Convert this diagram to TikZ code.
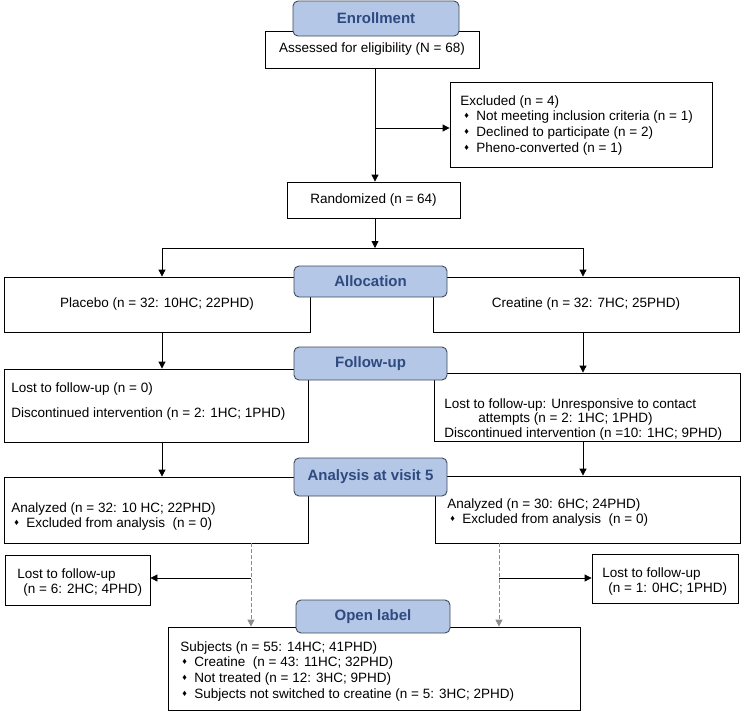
\documentclass[tikz,border=0pt]{standalone}
\usepackage{fontspec}
\setmainfont{Liberation Sans}
\usetikzlibrary{arrows.meta}
\definecolor{lblblue}{HTML}{B4C7E7}
\definecolor{lbledge}{HTML}{3F4A5C}
\definecolor{lbltext}{HTML}{2F4A7F}
\definecolor{dashgray}{HTML}{8C8C8C}
\newcommand{\dia}{\makebox[12pt][l]{\raisebox{2.2pt}{\fontsize{9}{9}\selectfont ♦}}}
\tikzset{
  box/.style={draw, fill=white, inner sep=0pt, font=\fontsize{13.5}{15.7}\selectfont},
  lbl/.style={draw=lbledge, fill=lblblue, rounded corners=5pt, line width=0.9pt, text=lbltext,
    font=\bfseries\fontsize{15}{18}\selectfont, inner sep=0pt},
  txt/.style={font=\fontsize{13.5}{15.7}\selectfont, align=left, inner sep=0pt, anchor=north west},
  dsh/.style={draw=dashgray, dash pattern=on 4pt off 2pt, line width=1pt}
}
\begin{document}
\begin{tikzpicture}[x=1pt, y=-1pt, line width=0.8pt, >={Triangle[length=7pt,width=7pt]}]
                \useasboundingbox (0,0) rectangle (742,712);
                \node[box, minimum width=214pt, minimum height=37pt] (assess) at (372,49.5) {Assessed for eligibility (N = 68)};
                \node[lbl, minimum width=166pt, minimum height=35pt] (enroll) at (376,18.5) {Enrollment};
                \node[box, minimum width=262pt, minimum height=85pt] (excl) at (581,124.5) {};
                \node[txt] (excltext) at (460,95) {Excluded (n = 4)\\
                  \hspace*{4pt}\dia Not meeting inclusion criteria (n = 1)\\
                  \hspace*{4pt}\dia Declined to participate (n = 2)\\
                  \hspace*{4pt}\dia Pheno-converted (n = 1)};
                \node[box, minimum width=173pt, minimum height=36pt] (rand) at (373.5,200) {Randomized (n = 64)};
                \coordinate (excljoin) at (375,128);
                \draw[->] (assess.south -| excljoin) -- (rand.north -| excljoin);
                \draw[->] (excljoin) -- (excl.west |- excljoin);

                \node[box, minimum width=306pt, minimum height=55pt] (placebo) at (157,304.5) {Placebo (n = 32: 10HC; 22PHD)};
                \node[box, minimum width=306pt, minimum height=55pt] (creat) at (586,304.5) {Creatine (n = 32: 7HC; 25PHD)};
                \node[lbl, minimum width=153pt, minimum height=31pt] (alloc) at (370.5,281.5) {Allocation};
                \coordinate (split) at (375,248);
                \coordinate (splitL) at (162,248);
                \coordinate (splitR) at (583,248);
                \draw[->] (rand.south -| split) -- (split);
                \draw (splitL) -- (splitR);
                \draw[->] (splitL) -- (splitL |- placebo.north);
                \draw[->] (splitR) -- (splitR |- creat.north);

                \node[box, minimum width=304pt, minimum height=73pt] (fuL) at (156,405.5) {};
                \node[txt] (fuLtext) at (11,382) {Lost to follow-up (n = 0)\\[9.3pt]
                  Discontinued intervention (n = 2: 1HC; 1PHD)};
                \node[box, minimum width=306pt, minimum height=68pt] (fuR) at (587,407) {};
                \node[txt] (fuRtext) at (444,398) {Lost to follow-up: Unresponsive to contact\\[-1pt]
                  \hspace*{34pt}attempts (n = 2: 1HC; 1PHD)\\[-1pt]
                  Discontinued intervention (n =10: 1HC; 9PHD)};
                \node[lbl, minimum width=153pt, minimum height=33pt] (follow) at (370.5,363.5) {Follow-up};
                \draw[->] (splitL |- placebo.south) -- (splitL |- fuL.north);
                \draw[->] (splitR |- creat.south) -- (splitR |- fuR.north);

                \node[box, minimum width=304pt, minimum height=66pt] (anL) at (156,510) {};
                \node[txt] (anLtext) at (11,502) {Analyzed (n = 32: 10 HC; 22PHD)\\
                  \hspace*{3pt}\dia Excluded from analysis\ \ (n = 0)};
                \node[box, minimum width=305pt, minimum height=67pt] (anR) at (587.5,509.5) {};
                \node[txt] (anRtext) at (447,498) {Analyzed (n = 30: 6HC; 24PHD)\\
                  \hspace*{3pt}\dia Excluded from analysis\ \ (n = 0)};
                \node[lbl, minimum width=153pt, minimum height=38pt] (analysis) at (370.5,477) {Analysis at visit 5};
                \draw[->] (splitL |- fuL.south) -- (splitL |- anL.north);
                \draw[->] (splitR |- fuR.south) -- (splitR |- anR.north);

                \node[box, minimum width=145pt, minimum height=50pt] (lostL) at (77.5,580) {};
                \node[txt] (lostLtext) at (17,568) {Lost to follow-up\\
                  \hspace*{6pt}(n = 6: 2HC; 4PHD)};
                \node[box, minimum width=146pt, minimum height=49pt] (lostR) at (665,578.5) {};
                \node[txt] (lostRtext) at (602,567) {Lost to follow-up\\
                  \hspace*{6pt}(n = 1: 0HC; 1PHD)};
                \node[box, minimum width=412pt, minimum height=83pt] (subj) at (374,668.5) {};
                \node[txt] (subjtext) at (180,641) {Subjects (n = 55: 14HC; 41PHD)\\
                  \hspace*{2pt}\dia Creatine\ \ (n = 43: 11HC; 32PHD)\\
                  \hspace*{2pt}\dia Not treated (n = 12: 3HC; 9PHD)\\
                  \hspace*{2pt}\dia Subjects not switched to creatine (n = 5: 3HC; 2PHD)};
                \node[lbl, minimum width=154pt, minimum height=33pt] (openlbl) at (373,616.5) {Open label};
                \coordinate (dashL) at (251,578);
                \coordinate (dashR) at (499,578);
                \draw[dsh, ->, dashgray] (dashL |- anL.south) -- (dashL |- subj.north);
                \draw[dsh, ->, dashgray] (dashR |- anR.south) -- (dashR |- subj.north);
                \draw[->] (dashL) -- (dashL -| lostL.east);
                \draw[->] (dashR) -- (dashR -| lostR.west);
            \end{tikzpicture}
\end{document}
